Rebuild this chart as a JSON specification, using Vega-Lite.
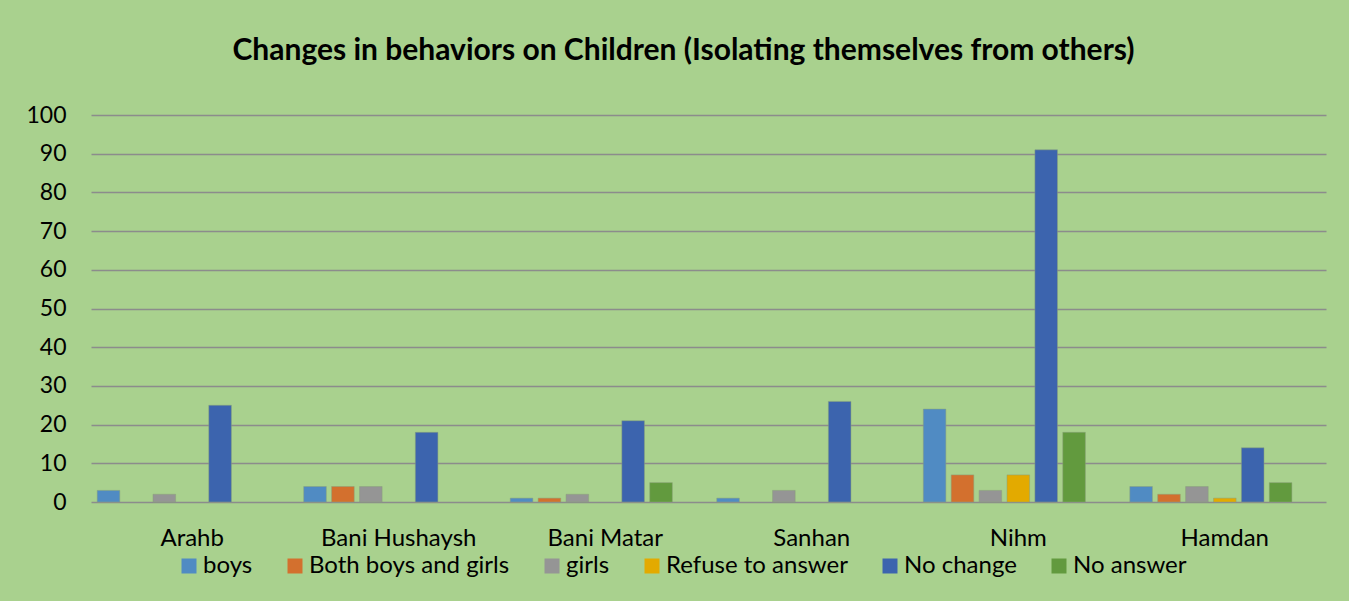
{
  "$schema": "https://vega.github.io/schema/vega-lite/v6.json",
  "width": 1235,
  "height": 387,
  "autosize": "none",
  "padding": {"left": 91, "top": 115, "right": 23, "bottom": 99},
  "background": "#A9D18E",
  "title": {
    "text": "Changes in behaviors on Children (Isolating themselves from others)",
    "font": "Lato",
    "fontSize": 30,
    "fontWeight": "bold",
    "color": "#000000",
    "anchor": "middle",
    "dx": -25,
    "offset": 38
  },
  "config": {
    "view": {"stroke": null},
    "font": "Lato"
  },
  "data": {
    "values": [
      {"district": "Arahb", "series": "boys", "value": 3},
      {"district": "Arahb", "series": "girls", "value": 2},
      {"district": "Arahb", "series": "No change", "value": 25},
      {"district": "Bani Hushaysh", "series": "boys", "value": 4},
      {"district": "Bani Hushaysh", "series": "Both boys and girls", "value": 4},
      {"district": "Bani Hushaysh", "series": "girls", "value": 4},
      {"district": "Bani Hushaysh", "series": "No change", "value": 18},
      {"district": "Bani Matar", "series": "boys", "value": 1},
      {"district": "Bani Matar", "series": "Both boys and girls", "value": 1},
      {"district": "Bani Matar", "series": "girls", "value": 2},
      {"district": "Bani Matar", "series": "No change", "value": 21},
      {"district": "Bani Matar", "series": "No answer", "value": 5},
      {"district": "Sanhan", "series": "boys", "value": 1},
      {"district": "Sanhan", "series": "girls", "value": 3},
      {"district": "Sanhan", "series": "No change", "value": 26},
      {"district": "Nihm", "series": "boys", "value": 24},
      {"district": "Nihm", "series": "Both boys and girls", "value": 7},
      {"district": "Nihm", "series": "girls", "value": 3},
      {"district": "Nihm", "series": "Refuse to answer", "value": 7},
      {"district": "Nihm", "series": "No change", "value": 91},
      {"district": "Nihm", "series": "No answer", "value": 18},
      {"district": "Hamdan", "series": "boys", "value": 4},
      {"district": "Hamdan", "series": "Both boys and girls", "value": 2},
      {"district": "Hamdan", "series": "girls", "value": 4},
      {"district": "Hamdan", "series": "Refuse to answer", "value": 1},
      {"district": "Hamdan", "series": "No change", "value": 14},
      {"district": "Hamdan", "series": "No answer", "value": 5}
    ]
  },
  "mark": {"type": "bar", "stroke": "#8aa07a", "strokeWidth": 0.5},
  "encoding": {
    "x": {
      "field": "district",
      "type": "nominal",
      "sort": ["Arahb", "Bani Hushaysh", "Bani Matar", "Sanhan", "Nihm", "Hamdan"],
      "scale": {"paddingInner": 0.08, "paddingOuter": 0.03},
      "axis": {
        "title": null,
        "labelAngle": 0,
        "labelFontSize": 24,
        "labelColor": "#000000",
        "labelPadding": 24,
        "labelLimit": 0,
        "ticks": false,
        "domain": false
      }
    },
    "xOffset": {
      "field": "series",
      "type": "nominal",
      "scale": {
        "domain": ["boys", "Both boys and girls", "girls", "Refuse to answer", "No change", "No answer", "_"],
        "paddingInner": 0.19,
        "paddingOuter": 0
      }
    },
    "y": {
      "field": "value",
      "type": "quantitative",
      "scale": {"domain": [0, 100]},
      "axis": {
        "title": null,
        "values": [0, 10, 20, 30, 40, 50, 60, 70, 80, 90, 100],
        "labelFontSize": 23,
        "labelColor": "#000000",
        "labelPadding": 25,
        "ticks": false,
        "domain": false,
        "gridColor": "#8C8C8C",
        "gridWidth": 1.5
      }
    },
    "color": {
      "field": "series",
      "type": "nominal",
      "scale": {
        "domain": ["boys", "Both boys and girls", "girls", "Refuse to answer", "No change", "No answer"],
        "range": ["#508BC3", "#D3702E", "#959595", "#E3AA00", "#3C64AE", "#629A3E"]
      },
      "legend": {
        "title": null,
        "orient": "none",
        "direction": "horizontal",
        "legendX": 86,
        "legendY": 439,
        "symbolType": "square",
        "symbolSize": 225,
        "symbolStrokeWidth": 0,
        "labelFontSize": 24,
        "labelColor": "#000000",
        "labelLimit": 0,
        "columnPadding": 30,
        "labelOffset": 2
      }
    }
  }
}
